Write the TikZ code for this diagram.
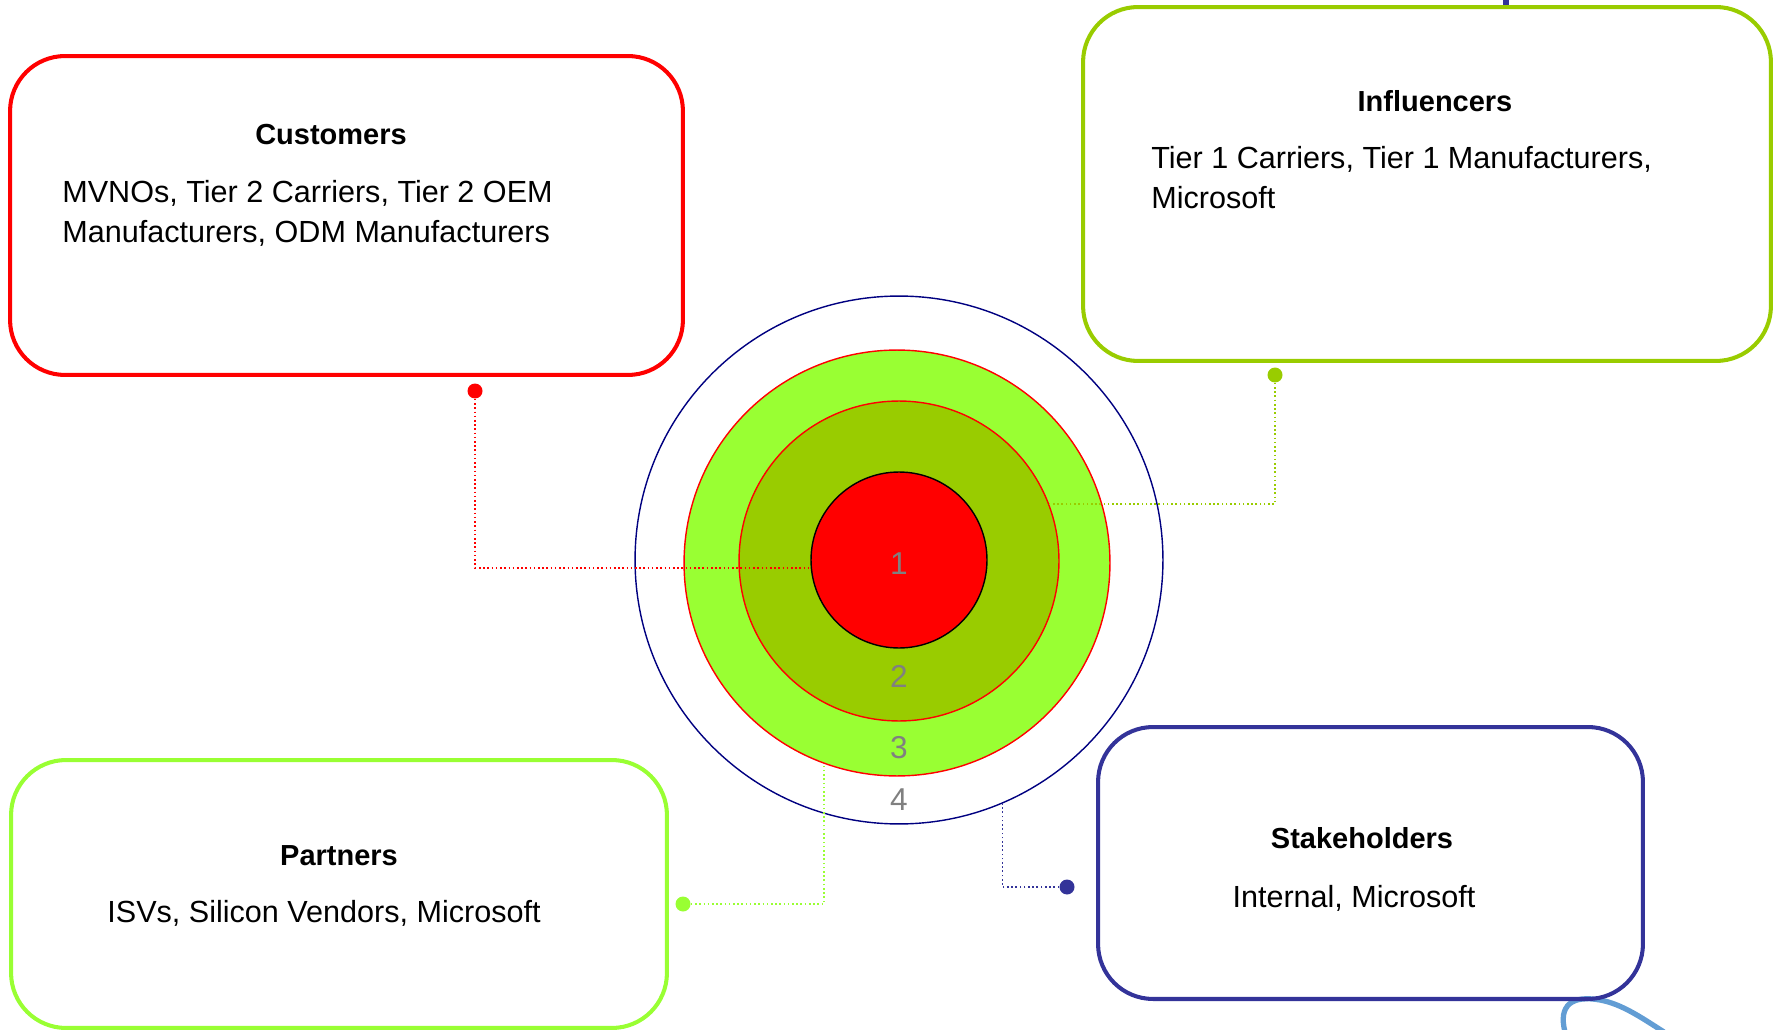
\documentclass[tikz,border=0pt]{standalone}
\usepackage{fontspec}
\setmainfont{Liberation Sans}
\usepackage{tikz}
\definecolor{cred}{RGB}{255,0,0}
\definecolor{colive}{RGB}{153,204,0}
\definecolor{clime}{RGB}{153,255,51}
\definecolor{cblue}{RGB}{51,51,153}
\definecolor{cnavy}{RGB}{0,0,128}
\definecolor{cswirl}{RGB}{70,140,205}
\begin{document}
\begin{tikzpicture}[x=0.02cm, y=-0.02cm,
	groupbox/.style={rectangle, rounded corners=1.1cm, line width=2.3pt, inner sep=0pt},
	ring/.style={circle, inner sep=0pt, line width=0.8pt},
	boxtitle/.style={font=\fontsize{16.5}{19}\selectfont\bfseries, inner sep=0pt},
	boxtext/.style={font=\fontsize{17.4}{22.8}\selectfont, inner sep=0pt, align=left},
	ringnum/.style={font=\fontsize{18}{20}\selectfont, text=gray, inner sep=0pt},
	dotmark/.style={circle, inner sep=0pt, minimum size=0.3cm},
	linkline/.style={line width=0.9pt, dash pattern=on 0.9pt off 1.5pt}]
			\useasboundingbox (0,0) rectangle (1778,1030);
			\fill[cblue] (1503,0) rectangle (1509,5);
			\draw[cswirl, line width=3pt, opacity=0.85] (1565,1032) .. controls (1558,1005) and (1572,995) .. (1600,1000) .. controls (1622,1004) and (1642,1018) .. (1664,1032);
			
			\node[groupbox, draw=cred, minimum width=13.46cm, minimum height=6.38cm] (cust) at (346.5,215.5){};
			\node[groupbox, draw=colive, minimum width=13.76cm, minimum height=7.08cm] (infl) at (1427,184){};
			\node[groupbox, draw=clime, minimum width=13.12cm, minimum height=5.36cm] (part) at (339,894){};
			\node[groupbox, draw=cblue, minimum width=10.9cm, minimum height=5.44cm] (stake) at (1370.5,863){};
			
			\node[boxtitle, anchor=base] (custtitle) at (331,145){Customers};
			\node[boxtext, anchor=west] (custtext) at (62,213){MVNOs, Tier 2 Carriers, Tier 2 OEM\\Manufacturers, ODM Manufacturers};
			\node[boxtitle, anchor=base] (infltitle) at (1435,112){Influencers};
			\node[boxtext, anchor=west] (infltext) at (1151,178){Tier 1 Carriers, Tier 1 Manufacturers,\\Microsoft};
			\node[boxtitle, anchor=base] (parttitle) at (339,865){Partners};
			\node[boxtext, anchor=base] (parttext) at (324,922){ISVs, Silicon Vendors, Microsoft};
			\node[boxtitle, anchor=base] (staketitle) at (1362,848){Stakeholders};
			\node[boxtext, anchor=base] (staketext) at (1354,907){Internal, Microsoft};
			
			\node[ring, draw=cnavy, minimum size=10.56cm] (outer) at (899,560){};
			\node[ring, draw=cred, fill=clime, minimum size=8.52cm] (ring3) at (897,563){};
			\node[ring, draw=cred, fill=colive, minimum size=6.4cm] (ring2) at (899,561){};
			\node[ring, draw=black, fill=cred, minimum size=3.52cm] (core) at (899,560){};
			
			\node[dotmark, fill=cred] (cdot) at (475,391){};
			\node[dotmark, fill=colive] (idot) at (1275,375){};
			\node[dotmark, fill=clime] (pdot) at (683,904){};
			\node[dotmark, fill=cblue] (sdot) at (1067,887){};
			\coordinate (iend) at (987,504);
			
			\draw[linkline, draw=cred] (cdot) |- (core.185);
			\draw[linkline, draw=colive] (idot) |- (iend);
			\draw[linkline, draw=clime] (pdot) -| (ring3.250);
			\draw[linkline, draw=cblue] (sdot) -| (outer.293);
			
			\node[ringnum] (n1) at (899,564){1};
			\node[ringnum] (n2) at (899,676){2};
			\node[ringnum] (n3) at (899,748){3};
			\node[ringnum] (n4) at (899,800){4};
\end{tikzpicture}
\end{document}
